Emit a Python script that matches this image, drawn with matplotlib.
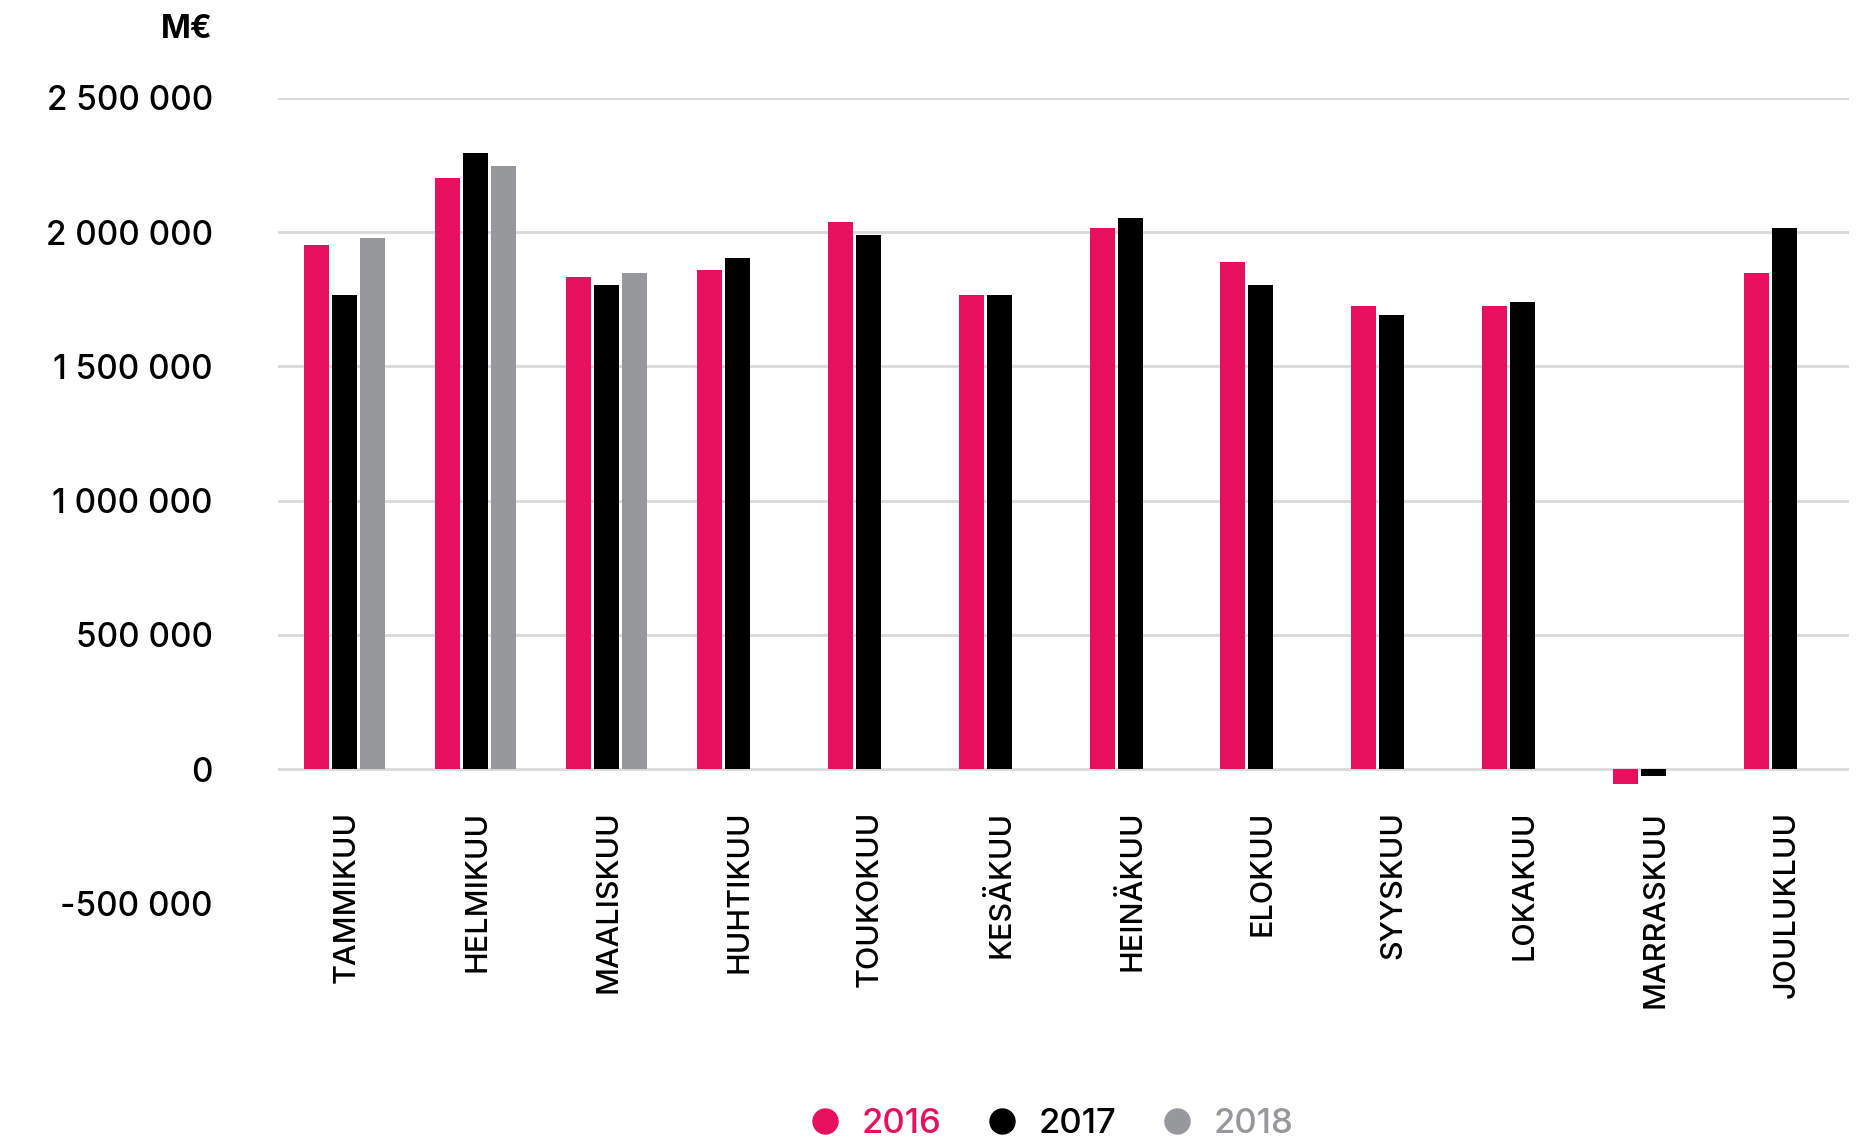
import matplotlib.pyplot as plt
import numpy as np
from matplotlib.lines import Line2D
from matplotlib.ticker import FuncFormatter

months = ['TAMMIKUU', 'HELMIKUU', 'MAALISKUU', 'HUHTIKUU', 'TOUKOKUU', 'KESÄKUU',
          'HEINÄKUU', 'ELOKUU', 'SYYSKUU', 'LOKAKUU', 'MARRASKUU', 'JOULUKLUU']
years = ['2016', '2017', '2018']

# M€ per month
v2016 = [1950000, 2200000, 1831000, 1857000, 2036000, 1764000,
         2014000, 1890000, 1723000, 1723000, -54000, 1847000]
v2017 = [1764000, 2293000, 1802000, 1902000, 1988000, 1764000,
         2051000, 1801000, 1690000, 1741000, -24000, 2014000]
v2018 = [1976000, 2245000, 1846000, np.nan, np.nan, np.nan,
         np.nan, np.nan, np.nan, np.nan, np.nan, np.nan]

colors = ['#E6105F', '#000000', '#97989C']
grid_color = '#D9D9D9'

plt.rcParams['font.family'] = ['Inter', 'DejaVu Sans']
plt.rcParams['font.weight'] = 'medium'

fig = plt.figure(figsize=(18.7, 11.41), dpi=100)
ax = fig.add_axes([0.1487, 0.2083, 0.8401, 0.706])

x = np.arange(len(months))
width = 0.191
step = 0.214
for k, vals in enumerate([v2016, v2017, v2018]):
    ax.bar(x + (k - 1) * step + 0.008, vals, width, color=colors[k], zorder=3)

yticks = [-500000, 0, 500000, 1000000, 1500000, 2000000, 2500000]
for t in yticks:
    if t >= 0:
        ax.axhline(t, color=grid_color, lw=2, zorder=1)

ax.set_xlim(-0.5, len(months) - 0.5)
ax.set_ylim(-500000, 2500000)
ax.set_yticks(yticks)
ax.yaxis.set_major_formatter(FuncFormatter(lambda v, p: f'{int(v):,}'.replace(',', ' ')))
ax.tick_params(axis='y', length=0, pad=47, labelsize=24)
ax.set_xticks([])
for s in ax.spines.values():
    s.set_visible(False)

# month names hang below the zero line
for i, m in enumerate(months):
    ax.annotate(m, (i, 0), xytext=(2, -30), textcoords='offset points',
                rotation=90, ha='center', va='top', fontsize=22)

fig.text(213 / 1870, 1 - 30 / 1141, 'M€', ha='right', va='center',
         fontsize=23, fontweight='bold')

handles = [Line2D([], [], marker='o', ls='', color=c, markersize=18) for c in colors]
leg = fig.legend(handles, years, loc='center', bbox_to_anchor=(0.557, 0.015),
                 ncol=3, frameon=False, fontsize=25, handletextpad=0.05,
                 columnspacing=0.75, labelcolor=colors)

fig.savefig('out.png', dpi=100)
